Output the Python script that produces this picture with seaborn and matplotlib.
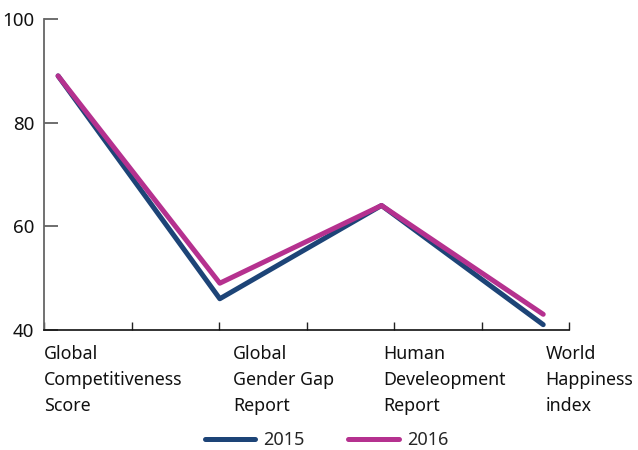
import numpy as np
import pandas as pd
import matplotlib
matplotlib.use("Agg")
import matplotlib.pyplot as plt
import seaborn as sns
from matplotlib.lines import Line2D

# Data
categories = ["Global\nCompetitiveness\nScore", "Global\nGender Gap\nReport",
              "Human\nDeveleopment\nReport", "World\nHappiness\nindex"]
years = ["2015", "2016"]
values_2015 = [89, 46, 64, 41]
values_2016 = [89, 49, 64, 43]
colors = {"2015": "#1d4477", "2016": "#b5318f"}

df = pd.DataFrame({
    "x": list(range(len(categories))) * 2,
    "score": values_2015 + values_2016,
    "year": [years[0]] * len(categories) + [years[1]] * len(categories),
})

sns.set_style("white")
plt.rcParams["font.family"] = ["Noto Sans", "DejaVu Sans"]

fig = plt.figure(figsize=(6.38, 4.5), dpi=100)
ax = fig.add_axes([0.069, 0.267, 0.823, 0.691])

sns.lineplot(data=df, x="x", y="score", hue="year", palette=colors,
             linewidth=3.6, ax=ax, legend=False,
             solid_capstyle="round", solid_joinstyle="round")

# axis ranges and ticks
xmin, xmax = -0.087, 3.16
ax.set_xlim(xmin, xmax)
ax.set_ylim(40, 100)
ax.set_yticks([40, 60, 80, 100])
ax.set_xticks(np.linspace(xmin, xmax, 7))
ax.set_xticklabels([])
ax.tick_params(axis="y", direction="in", length=10, width=1.2, color="#555555",
               labelsize=13.5, labelcolor="#111111", pad=7, left=True)
ax.tick_params(axis="x", direction="in", length=6, width=1, color="#222222",
               bottom=True)
ax.set_xlabel("")
ax.set_ylabel("")

for side in ["top", "right"]:
    ax.spines[side].set_visible(False)
ax.spines["left"].set_color("#666666")
ax.spines["left"].set_linewidth(1.3)
ax.spines["bottom"].set_color("#111111")
ax.spines["bottom"].set_linewidth(1.2)

# category labels, left aligned under the axis
label_pos = [0.0, 0.36, 0.646, 0.955]
for pos, lab in zip(label_pos, categories):
    ax.text(pos, -0.05, lab, transform=ax.transAxes, ha="left", va="top",
            fontsize=12.8, color="#111111", linespacing=1.57)

# legend
handles = [Line2D([], [], color=colors[y], linewidth=3.6, solid_capstyle="round")
           for y in years]
fig.legend(handles, years, loc="center", bbox_to_anchor=(0.512, 0.022),
           ncol=2, frameon=False, fontsize=13, handlelength=2.8,
           columnspacing=2.4, handletextpad=0.45)

fig.savefig("out.png", dpi=100)
